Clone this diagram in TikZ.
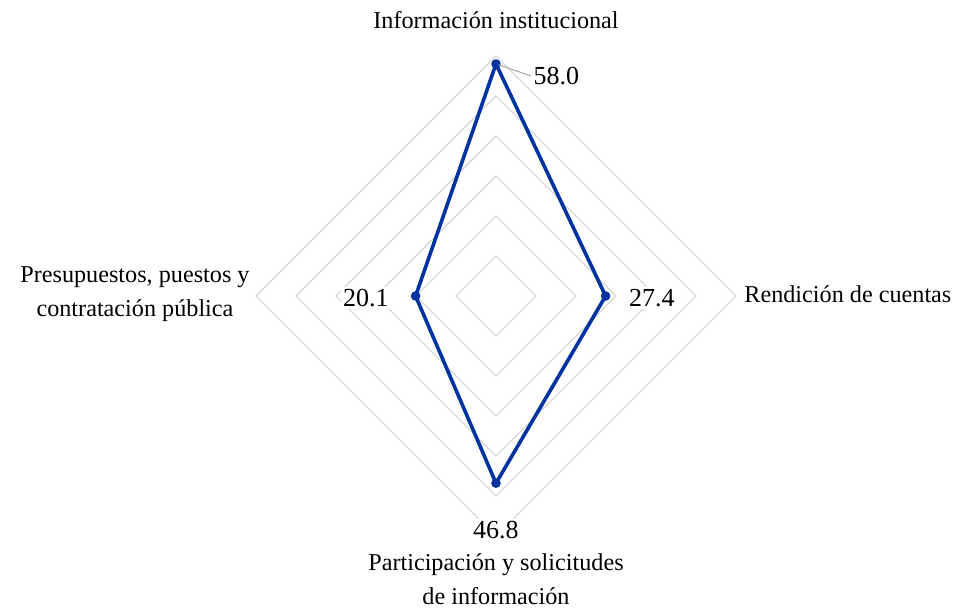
\documentclass[tikz,border=0pt]{standalone}
\usepackage{fontspec}
\setmainfont{Liberation Serif}
\usepackage{xcolor}
\usepackage{tikz}

\definecolor{serieblue}{HTML}{0033A0}
\definecolor{gridgray}{HTML}{D9D9D9}
\definecolor{leadergray}{HTML}{A6A6A6}

\tikzset{
  gridline/.style={draw=gridgray, line width=0.7pt},
  serie/.style={draw=serieblue, line width=1.8pt, line join=round},
  seriedot/.style={circle, fill=serieblue, inner sep=0pt, minimum size=4.8pt},
  valuelabel/.style={fill=white, inner sep=1pt, font=\fontsize{13}{15}\selectfont},
  axislabel/.style={align=center, inner sep=0pt, font=\fontsize{12.1}{17}\selectfont},
}

\begin{document}
\begin{tikzpicture}[x=20pt, y=20pt]
        \useasboundingbox (-12.4,-7.85) rectangle (11.475,7.4);

        %% Grid
        \foreach \r in {1,...,6}
            \draw [gridline] (0,\r) -- (\r,0) -- (0,-\r) -- (-\r,0) -- cycle;

        %% Values
        \node (pInfo) [seriedot] at (0,5.80) {};
        \node (pRend) [seriedot] at (2.74,0) {};
        \node (pPart) [seriedot] at (0,-4.68) {};
        \node (pPres) [seriedot] at (-2.01,0) {};

        %% Value labels
        \node (v58) [valuelabel, anchor=west] at (0.88,5.5) {58.0};
        \node (v27) [valuelabel] at (3.9,-0.05) {27.4};
        \node (v47) [valuelabel] at (0,-5.85) {46.8};
        \node (v20) [valuelabel] at (-3.25,-0.05) {20.1};
        \draw [leadergray, line width=0.5pt] (pInfo.center) -- (v58.west);

        %% Series
        \draw [serie] (pInfo.center) -- (pRend.center) -- (pPart.center) -- (pPres.center) -- cycle;

        %% Axis labels
        \node (lInfo) [axislabel] at (0,6.9) {Información institucional};
        \node (lRend) [axislabel, anchor=west] at (6.2,0.05) {Rendición de cuentas};
        \node (lPart) [axislabel] at (0,-7.08) {Participación y solicitudes\\de información};
        \node (lPres) [axislabel, anchor=east] at (-6.15,0.05) {Presupuestos, puestos y\\contratación pública};

    \end{tikzpicture}
\end{document}
